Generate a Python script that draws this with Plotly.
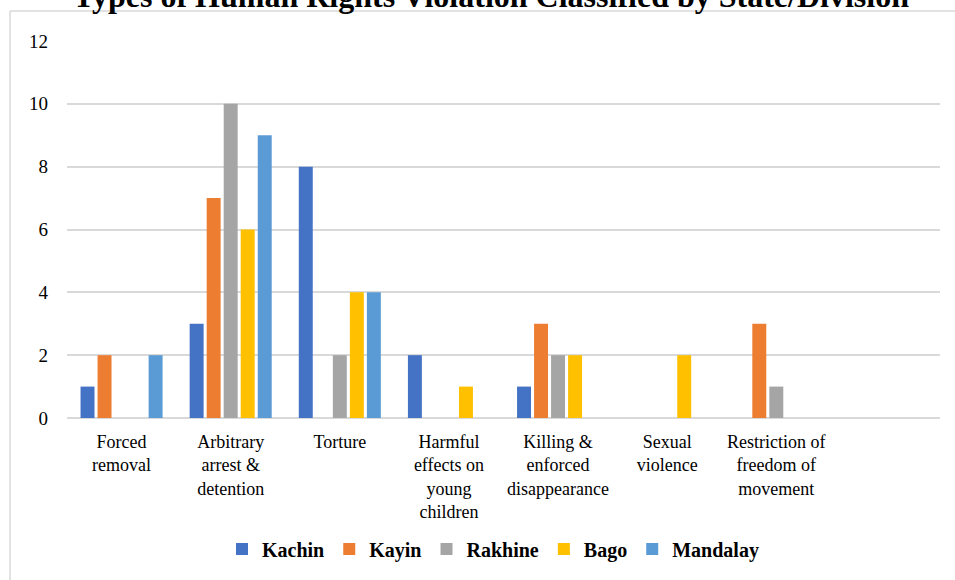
import plotly.graph_objects as go

categories = ["Forced<br>removal", "Arbitrary<br>arrest &<br>detention", "Torture",
              "Harmful<br>effects on<br>young<br>children", "Killing &<br>enforced<br>disappearance",
              "Sexual<br>violence", "Restriction of<br>freedom of<br>movement", ""]
series_names = ["Kachin", "Kayin", "Rakhine", "Bago", "Mandalay"]
kachin = [1, 3, 8, 2, 1, 0, 0, None]
kayin = [2, 7, 0, 0, 3, 0, 3, None]
rakhine = [0, 10, 2, 0, 2, 0, 1, None]
bago = [0, 6, 4, 1, 2, 2, 0, None]
mandalay = [2, 9, 4, 0, 0, 0, 0, None]
colors = ["#4472C4", "#ED7D31", "#A5A5A5", "#FFC000", "#5B9BD5"]
y_ticks = [0, 2, 4, 6, 8, 10, 12]
title_text = "Types of Human Rights Violation Classified by State/Division"

FONT = "Liberation Serif"
x_idx = list(range(len(categories)))

W, H = 955, 580
L, R, T, B = 67, 15, 41, 162
PW, PH = W - L - R, H - T - B

fig = go.Figure()
for name, vals, col in zip(series_names, [kachin, kayin, rakhine, bago, mandalay], colors):
    fig.add_trace(go.Bar(x=x_idx, y=vals, name="<b>" + name + "</b>", marker_color=col,
                         marker_line_width=0))

fig.update_layout(
    width=W, height=H,
    paper_bgcolor="white", plot_bgcolor="white",
    margin=dict(l=L, r=R, t=T, b=B),
    barmode="group", bargap=0.22, bargroupgap=0.18,
    font=dict(family=FONT, color="#000000"),
    legend=dict(orientation="h", x=(493 - L) / PW, xanchor="center",
                y=-(549 - (T + PH)) / PH, yanchor="middle",
                font=dict(family=FONT, size=20, color="#000000"),
                itemwidth=30, traceorder="normal"),
    xaxis=dict(tickmode="array", tickvals=x_idx, ticktext=categories, range=[-0.5, 7.5],
               showgrid=False, showline=False, ticks="", tickangle=0, ticklabelstandoff=11,
               tickfont=dict(family=FONT, size=18, color="#000000")),
    yaxis=dict(range=[0, 12], tickvals=y_ticks, showgrid=True, gridcolor="#D9D9D9", gridwidth=1.5,
               zeroline=True, zerolinecolor="#D9D9D9", zerolinewidth=1.5, showline=False,
               ticks="", ticklabelstandoff=18,
               tickfont=dict(family=FONT, size=19, color="#000000")),
    annotations=[dict(text="<b>" + title_text + "</b>", xref="paper", yref="paper",
                      x=(491 - L) / PW, y=1 + 45 / PH, xanchor="center", yanchor="middle",
                      showarrow=False, font=dict(family=FONT, size=32, color="#000000"))],
    shapes=[
        dict(type="line", xref="paper", yref="paper", x0=(10 - L) / PW, x1=(W - L) / PW,
             y0=1 + 30 / PH, y1=1 + 30 / PH, line=dict(color="#D9D9D9", width=1.5)),
        dict(type="line", xref="paper", yref="paper", x0=(10 - L) / PW, x1=(10 - L) / PW,
             y0=1 + 30 / PH, y1=-B / PH, line=dict(color="#D9D9D9", width=1.5)),
    ],
)

# remove the default page margin so the 955x580 figure fills the window exactly
fig.write_html("out.html", config={"displayModeBar": False}, post_script=(
    "document.body.style.margin='0';"
    "document.documentElement.style.overflow='hidden';"
    "document.body.style.overflow='hidden';"))
